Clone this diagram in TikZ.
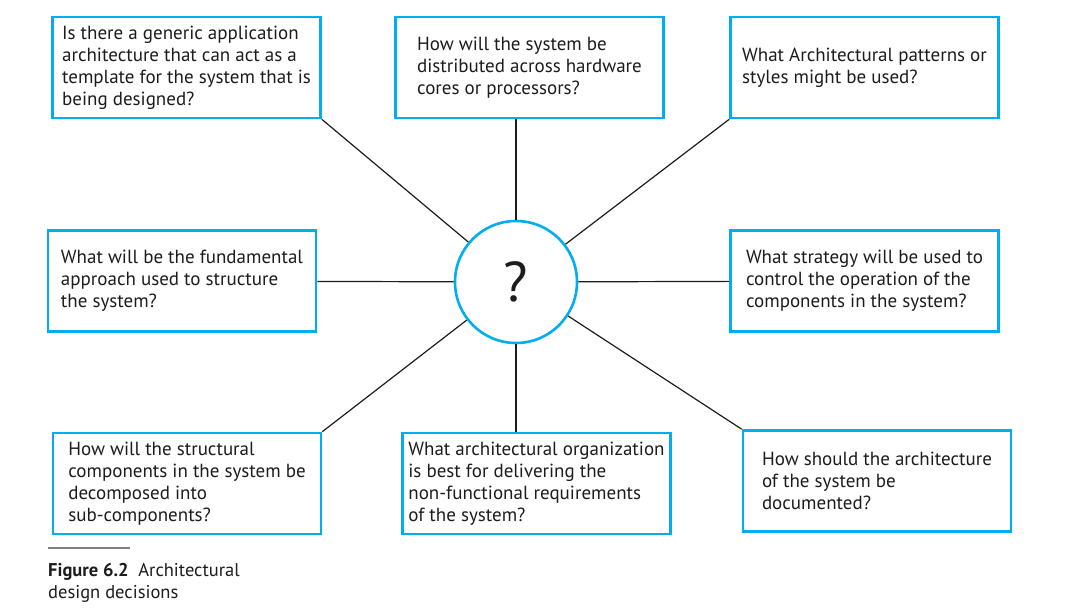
\documentclass[tikz,border=0pt]{standalone}
\usepackage{fontspec}
\setmainfont{PT Sans}
\usepackage{tikz}
\definecolor{cyanline}{RGB}{0,174,239}
\definecolor{inkgray}{RGB}{30,27,28}
\tikzset{%
    question/.style={%
        draw=cyanline, line width=2.6pt, align=left, inner sep=0pt,
        minimum width=268pt, minimum height=101pt, text=inkgray,
        font=\fontsize{19}{22}\selectfont
    },
    spoke/.style={draw=inkgray, line width=1.2pt}
}

\begin{document}
\begin{tikzpicture}[x=1pt,y=-1pt]
    \useasboundingbox (0,0) rectangle (1072,615);
    \node[circle,draw=cyanline,line width=2.6pt,minimum size=122pt,text=inkgray,
          font=\fontsize{56}{56}\selectfont] (hub) at (516,282) {?};
    \node[question] (generic) at (186.5,67.5) {Is there a generic application\\architecture that can act as a\\template for the system that is\\being designed?};
    \node[question] (distrib) at (529.5,67.5) {How will the system be\\distributed across hardware\\cores or processors?};
    \node[question] (patterns) at (864.5,67.5) {What Architectural patterns or\\styles might be used?};
    \node[question] (approach) at (182,281) {What will be the fundamental\\approach used to structure\\the system?};
    \node[question] (control) at (864.5,281) {What strategy will be used to\\control the operation of the\\components in the system?};
    \node[question] (decomp) at (187,483.5) {How will the structural\\components in the system be\\decomposed into\\sub-components?};
    \node[question] (nonfunc) at (536.5,483.5) {What architectural organization\\is best for delivering the\\non-functional requirements\\of the system?};
    \node[question] (docs) at (877,481) {How should the architecture\\of the system be\\documented?};
    % spokes
    \draw[spoke] (generic.south east) -- (hub);
    \draw[spoke] (hub) -- (hub |- distrib.south);
    \draw[spoke] (patterns.south west) -- (hub);
    \draw[spoke] (approach) -- (hub);
    \draw[spoke] (hub) -- (control);
    \draw[spoke] (decomp.north east) -- (hub);
    \draw[spoke] (hub) -- (hub |- nonfunc.north);
    \draw[spoke] (docs.north west) -- (hub);
    % caption
    \draw[gray,line width=1.2pt] (48,548) -- (130,548);
    \node[anchor=north west,align=left,inner sep=0pt,text=inkgray,
          font=\fontsize{18.5}{22}\selectfont] (caption) at (48,563)
          {\textbf{Figure 6.2}\ \ Architectural\\design decisions};
\end{tikzpicture}
\end{document}
